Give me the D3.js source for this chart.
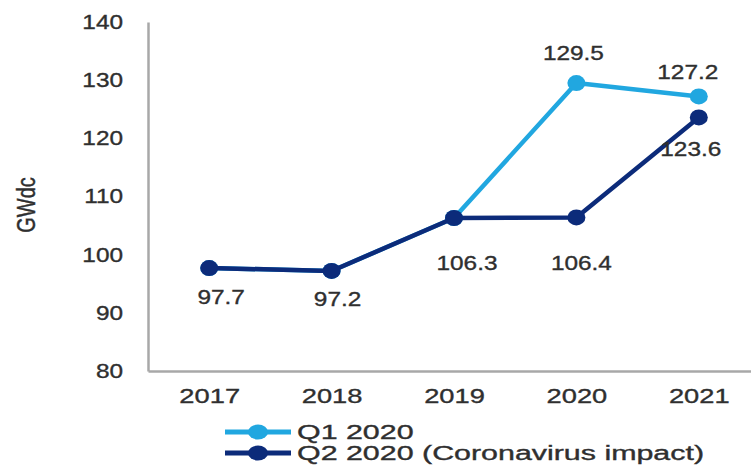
<!DOCTYPE html>
<html>
<head>
<meta charset="utf-8">
<script src="https://cdn.jsdelivr.net/npm/d3@7/dist/d3.min.js"></script>
<style>
  html, body { margin: 0; padding: 0; background: #ffffff; }
  svg { display: block; font-family: "Liberation Sans", Arial, sans-serif; }
  svg text { stroke: #2f2f2f; stroke-width: 0.35px; }
</style>
</head>
<body>
<svg id="chart" width="751" height="468"></svg>
<script>
// Global PV demand forecast, GWdc
const years = ["2017", "2018", "2019", "2020", "2021"];
const q1Values = [97.7, 97.2, 106.3, 129.5, 127.2];
const q2Values = [97.7, 97.2, 106.3, 106.4, 123.6];
const yTicks = [80, 90, 100, 110, 120, 130, 140];
const seriesNames = ["Q1 2020", "Q2 2020 (Coronavirus impact)"];
const seriesColors = ["#21a7e0", "#0c2b7a"];

// which point of which series carries a value label, and where it sits
const valueLabels = [
  { s: 1, i: 0, dx: 12, dy: 29 },
  { s: 1, i: 1, dx: 6, dy: 28 },
  { s: 1, i: 2, dx: 13, dy: 45 },
  { s: 1, i: 3, dx: 5, dy: 45 },
  { s: 0, i: 3, dx: -3, dy: -30 },
  { s: 0, i: 4, dx: -11, dy: -25 },
  { s: 1, i: 4, dx: -8, dy: 31 }
];

const series = [q1Values, q2Values];
const textColor = "#2f2f2f";
const axisColor = "#a8a8a8";

const svg = d3.select("#chart");

const margin = { left: 148, right: -9, top: 22, bottom: 97 };
const W = 751, H = 468;

const x = d3.scalePoint()
  .domain(years)
  .range([margin.left, W - margin.right])
  .padding(0.5);

const y = d3.scaleLinear()
  .domain([80, 140])
  .range([H - margin.bottom, margin.top]);

// horizontally widened text, used throughout the chart
function wideText(sel, sx) {
  sel.each(function () {
    const t = d3.select(this);
    const x0 = +t.attr("x") || 0;
    t.attr("x", x0 / sx).attr("transform", `scale(${sx},1)`);
  });
}

// y axis
const yAxis = svg.append("g")
  .attr("transform", `translate(${margin.left},0)`)
  .call(d3.axisLeft(y).tickValues(yTicks).tickSize(0).tickSizeOuter(0).tickPadding(25));
yAxis.select(".domain").attr("stroke", axisColor).attr("stroke-width", 2.5);
yAxis.selectAll("text")
  .attr("fill", textColor)
  .style("font-size", "20px")
  .call(wideText, 1.22);

// x axis
const xAxis = svg.append("g")
  .attr("transform", `translate(0,${y(80)})`)
  .call(d3.axisBottom(x).tickSize(0).tickSizeOuter(0).tickPadding(17));
xAxis.select(".domain").attr("stroke", axisColor).attr("stroke-width", 2.5);
xAxis.selectAll("text")
  .attr("fill", textColor)
  .style("font-size", "21px")
  .call(wideText, 1.3);

// y axis title
svg.append("text")
  .attr("transform", "translate(26,205) rotate(-90) scale(1,1.25)")
  .attr("text-anchor", "middle")
  .attr("dy", "0.35em")
  .attr("fill", textColor)
  .style("font-size", "20px")
  .text("GWdc");

// lines and markers; the Q2 series is drawn on top
const line = d3.line()
  .x((d, i) => x(years[i]))
  .y(d => y(d));

series.forEach((vals, s) => {
  const g = svg.append("g");
  g.append("path")
    .datum(vals)
    .attr("fill", "none")
    .attr("stroke", seriesColors[s])
    .attr("stroke-width", 4.5)
    .attr("stroke-linejoin", "round")
    .attr("d", line);
  g.selectAll("ellipse")
    .data(vals)
    .join("ellipse")
    .attr("cx", (d, i) => x(years[i]))
    .attr("cy", d => y(d))
    .attr("rx", 9)
    .attr("ry", 8)
    .attr("fill", seriesColors[s]);
});

// value labels
svg.append("g")
  .selectAll("g")
  .data(valueLabels)
  .join("g")
  .attr("transform", d => `translate(${x(years[d.i]) + d.dx},${y(series[d.s][d.i]) + d.dy})`)
  .append("text")
  .attr("transform", "scale(1.22,1)")
  .attr("text-anchor", "middle")
  .attr("dy", "0.36em")
  .attr("fill", textColor)
  .style("font-size", "20px")
  .text(d => series[d.s][d.i].toFixed(1));

// legend
const legend = svg.append("g");
const legendRows = legend.selectAll("g")
  .data(seriesNames)
  .join("g")
  .attr("transform", (d, i) => `translate(225,${432 + i * 21})`);
legendRows.append("line")
  .attr("x1", 0).attr("x2", 66)
  .attr("stroke", (d, i) => seriesColors[i])
  .attr("stroke-width", 5);
legendRows.append("ellipse")
  .attr("cx", 33).attr("rx", 10).attr("ry", 7.5)
  .attr("fill", (d, i) => seriesColors[i]);
legendRows.append("text")
  .attr("x", 72)
  .attr("dy", "0.36em")
  .attr("fill", textColor)
  .style("font-size", "20px")
  .text(d => d)
  .call(wideText, 1.52);
</script>
</body>
</html>
